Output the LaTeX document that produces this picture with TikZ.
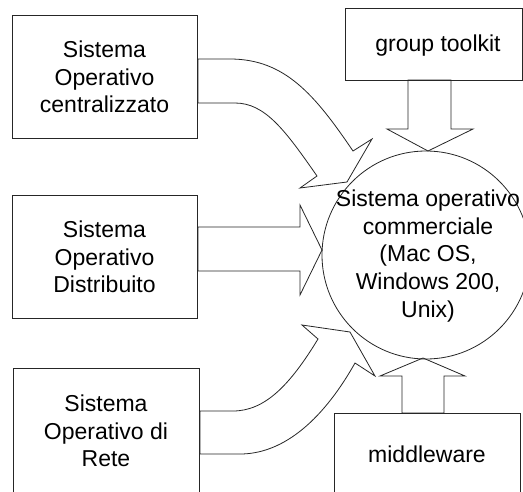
\documentclass[tikz,border=0pt]{standalone}
\usepackage{fontspec}
\setmainfont{Liberation Sans}
\begin{document}
\begin{tikzpicture}[x=1pt,y=-1pt,
  shape line/.style={draw=black!85,line width=0.8pt,line join=miter},
  lbl/.style={align=center,inner sep=0pt,font=\fontsize{23}{27.7}\selectfont}]
\useasboundingbox (0,0) rectangle (523,491);
\clip (0,0) rectangle (523,491);
% boxes
\draw[shape line] (12,15) rectangle (197,138);
\node[lbl] (b1) at (104.5,77) {Sistema\\Operativo\\centralizzato};
\draw[shape line] (12,195) rectangle (197,318);
\node[lbl] (b2) at (104.5,257) {Sistema\\Operativo\\Distribuito};
\draw[shape line] (13,368) rectangle (199,500);
\node[lbl] (b3) at (106,431) {Sistema\\Operativo di\\Rete};
\draw[shape line] (345,8) rectangle (522,80);
\node[lbl] (gt) at (438,46) {group toolkit};
\draw[shape line] (334,413) rectangle (520,500);
\node[lbl] (mw) at (427,454) {middleware};
% circle
\draw[shape line] (426,255) circle[radius=104];
\node[lbl] (os) at (428,256) {Sistema operativo\\commerciale\\(Mac OS,\\Windows 200,\\Unix)};
% curved arrow top
\draw[shape line] (198,59) -- (230,59) .. controls (285,59) and (315,95) .. (353,151)
  -- (372,139) -- (347,182) -- (300,188) -- (317,176)
  .. controls (285,130) and (265,103) .. (235,103) -- (198,103) -- cycle;
% straight middle arrow
\draw[shape line] (198,227) -- (300,227) -- (300,205) -- (322,250) -- (300,295)
  -- (300,271) -- (198,271) -- cycle;
% curved arrow bottom
\draw[shape line] (200,411) -- (233,411) .. controls (265,411) and (290,385) .. (318,339)
  -- (302,325) -- (350,332) -- (375,376) -- (355,363)
  .. controls (320,425) and (280,454) .. (240,454) -- (200,454) -- cycle;
% group toolkit arrow
\draw[shape line] (408,80) -- (408,129) -- (387,129) -- (428,151) -- (473,129)
  -- (451,129) -- (451,80) -- cycle;
% middleware arrow
\draw[shape line] (402,413) -- (402,376) -- (380,376) -- (423,358) -- (465,376)
  -- (444,376) -- (444,413) -- cycle;
\end{tikzpicture}
\end{document}
